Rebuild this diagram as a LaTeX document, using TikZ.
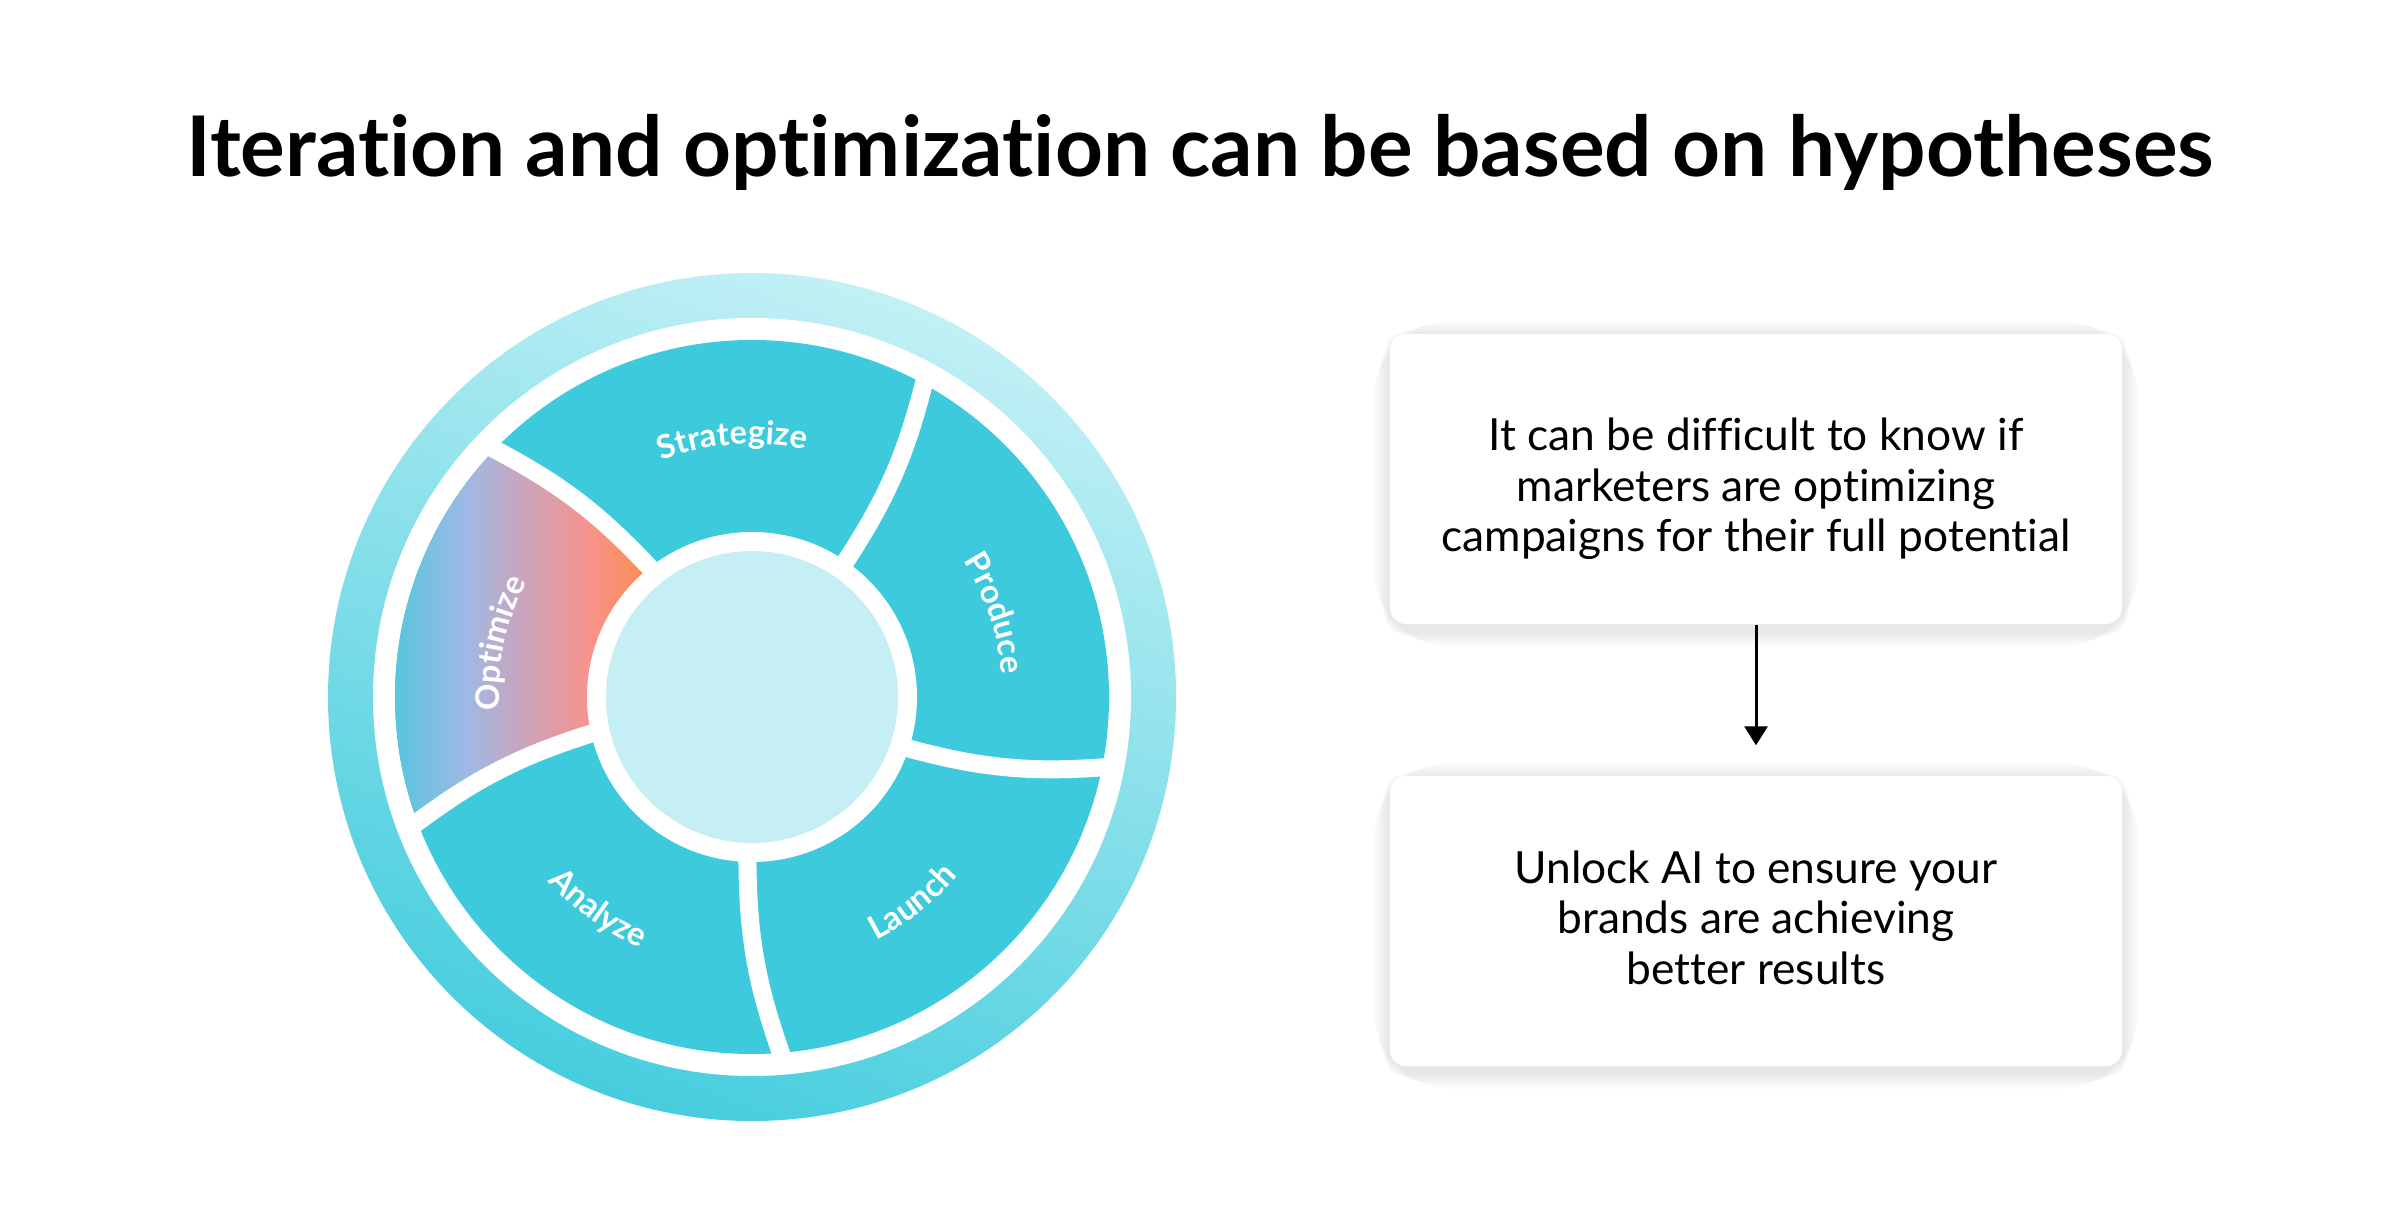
\documentclass[tikz,border=0pt]{standalone}
\usepackage{fontspec}
\setmainfont{Lato}[Ligatures=NoCommon]
\usetikzlibrary{arrows.meta,decorations.text,backgrounds}
\definecolor{segcyan}{HTML}{3CCADC}
\definecolor{hublight}{HTML}{C5EFF4}
\definecolor{ringtop}{HTML}{C2F0F5}
\definecolor{ringbot}{HTML}{46CDDE}
\definecolor{optA}{HTML}{3FC9DC}
\definecolor{optB}{HTML}{9FB9E4}
\definecolor{optC}{HTML}{CAA4BC}
\definecolor{optD}{HTML}{F5938F}
\definecolor{optE}{HTML}{FE8C50}
\pgfdeclarehorizontalshading{optshade}{100bp}{color(0bp)=(optA); color(25bp)=(optA); color(42bp)=(optB); color(52bp)=(optC); color(63bp)=(optD); color(74bp)=(optE); color(100bp)=(optE)}
\newcommand\seglbl{\color{white}\fontsize{9.3}{10}\selectfont\bfseries}

\begin{document}
\begin{tikzpicture}[x=0.1mm,y=0.1mm,
  box/.style={fill=white, rounded corners=1.6mm, minimum width=73.2mm, minimum height=29mm},
  boxtext/.style={align=center, font=\fontsize{12.6}{14.4}\selectfont},
  gap/.style={white, line width=1.8mm},
  seglabel/.style={decorate, decoration={text along path, text align=center, text={#1}}}]
		\node[font=\fontsize{23.8}{28}\selectfont\bfseries, anchor=base] (title) at (1200,1034) {Iteration and optimization can be based on hypotheses};
		\begin{scope}[shift={(752,513)}]
		\shade[top color=ringtop, bottom color=ringbot, shading angle=-20] (0,0) circle [radius=424];
		\fill[white] (0,0) circle [radius=379];
		\fill[segcyan] (0,0) circle [radius=357];
		\shade[shading=optshade] (136.6:357) arc [start angle=136.6, end angle=201, radius=357]
			to[bend left=10] (192.5:160) arc [start angle=192.5, end angle=128, radius=160]
			to[bend right=10] (136.6:357) -- cycle;
		\foreach \ai/\ao in {128/136.6, 55.3/61.7, -18.4/-10.9, -91.7/-84.9, -167.5/-159}
			\draw[gap] (\ai:155) to[bend right=10] (\ao:368);
		\fill[white] (0,0) circle [radius=165];
		\fill[hublight] (0,0) circle [radius=146];
		\path[seglabel={|\seglbl|Strategize}] (130.4:253) arc [start angle=130.4, end angle=58.4, radius=253];
		\path[seglabel={|\seglbl|Produce}] (55:251) arc [start angle=55, end angle=-17, radius=251];
		\path[seglabel={|\seglbl|Optimize}] (204:253) arc [start angle=204, end angle=132, radius=253];
		\path[seglabel={|\seglbl|Launch}] (-88:273) arc [start angle=-88, end angle=-16, radius=273];
		\path[seglabel={|\seglbl|Analyze}] (-162:275) arc [start angle=-162, end angle=-90, radius=275];
		\end{scope}
		\node[box] (doubt) at (1756,731) {};
		\node[box] (unlock) at (1756,289) {};
		\node[boxtext] (doubttxt) at ([yshift=-1mm]doubt.center) {It can be difficult to know if\\marketers are optimizing\\campaigns for their full potential};
		\node[boxtext] (unlocktxt) at ([yshift=0.35mm]unlock.center) {Unlock AI to ensure your\\brands are achieving\\better results};
		\draw[-{Triangle[width=2.3mm,length=1.9mm]}, line width=0.3mm, shorten >=3mm] (doubt) -- (unlock);
		\begin{scope}[on background layer]
		\fill[white] (0,0) rectangle (2400,1210);
		\foreach \b in {doubt,unlock}
			\foreach \s [evaluate=\s as \r using 1.6+0.2*\s] in {1,...,8}
				\fill[black, opacity=0.01, rounded corners=\r mm] ([shift={(-\s*0.2mm,-\s*0.2mm-0.6mm)}]\b.south west) rectangle ([shift={(\s*0.2mm,\s*0.2mm-0.3mm)}]\b.north east);
		\end{scope}
\end{tikzpicture}
\end{document}
